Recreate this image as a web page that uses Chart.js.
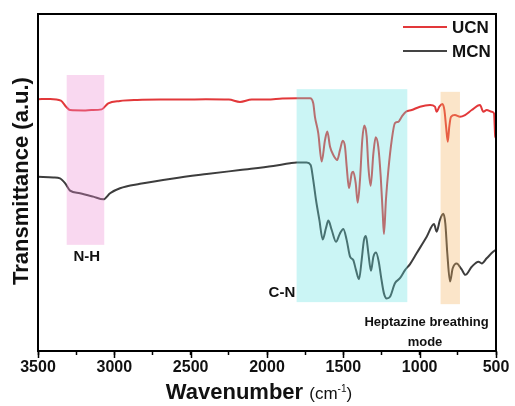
<!DOCTYPE html>
<html>
<head>
<meta charset="utf-8">
<script src="https://cdn.jsdelivr.net/npm/chart.js@4"></script>
<style>
html, body { margin: 0; padding: 0; background: #fff; }
</style>
</head>
<body>
<canvas id="ftir" width="515" height="406"></canvas>
<script>
// UCN (red) spectrum, wavenumber in cm-1 and transmittance in a.u.
const ucnWave = [3500, 3420, 3350, 3316, 3290, 3200, 3150, 3083, 3040, 2963, 2850, 2700, 2550, 2400, 2250, 2177, 2100, 2000, 1900, 1800, 1718, 1697, 1686, 1664, 1642, 1620, 1605, 1587, 1566, 1540, 1522, 1504, 1489, 1478, 1463, 1445, 1435, 1419, 1406, 1391, 1376, 1363, 1347, 1336, 1321, 1303, 1288, 1271, 1255, 1242, 1234, 1221, 1205, 1183, 1162, 1140, 1118, 1090, 1052, 998, 932, 900, 889, 871, 851, 838, 827, 816, 806, 795, 769, 736, 703, 659, 605, 583, 561, 528, 513, 505, 500]
const ucnT = [74.7, 74.8, 74.3, 72.5, 71.5, 71.4, 71.5, 71.7, 73.5, 74.2, 74.5, 74.6, 74.6, 74.7, 74.6, 73.9, 74.6, 74.6, 74.9, 75.0, 75.0, 73.5, 69.5, 64.6, 56.2, 62.6, 65.1, 60.6, 58.2, 56.7, 59.6, 62.4, 60.6, 54.7, 48.3, 52.7, 53.2, 49.8, 44.0, 50.7, 62.6, 66.9, 63.6, 54.7, 49.0, 58.7, 63.4, 60.6, 51.7, 40.9, 34.7, 44.8, 53.7, 62.6, 67.6, 68.0, 69.5, 71.0, 71.5, 72.5, 73.0, 72.5, 71.0, 72.5, 73.3, 71.5, 66.6, 62.1, 66.6, 69.5, 70.0, 69.5, 70.0, 71.5, 73.0, 71.0, 71.5, 71.0, 70.5, 63.6, 63.2]

// MCN (dark grey) spectrum
const mcnWave = [3500, 3400, 3356, 3323, 3290, 3225, 3138, 3072, 3028, 2963, 2832, 2614, 2395, 2177, 1959, 1849, 1806, 1740, 1714, 1697, 1679, 1657, 1635, 1614, 1598, 1576, 1548, 1522, 1500, 1478, 1456, 1435, 1417, 1397, 1380, 1365, 1352, 1336, 1319, 1303, 1286, 1268, 1253, 1234, 1216, 1194, 1162, 1129, 1096, 1063, 1020, 954, 906, 889, 867, 845, 832, 819, 801, 784, 758, 725, 701, 659, 615, 593, 561, 517, 500]
const mcnT = [51.7, 51.5, 51.2, 49.8, 47.6, 46.8, 45.8, 45.0, 46.8, 48.3, 49.6, 51.2, 52.5, 53.7, 54.9, 55.7, 55.9, 55.9, 55.2, 50.7, 44.8, 38.9, 33.1, 36.4, 38.7, 35.9, 32.4, 34.9, 36.2, 32.9, 28.0, 27.0, 24.0, 21.3, 27.0, 32.9, 34.1, 29.0, 23.8, 28.0, 29.2, 26.5, 22.0, 17.1, 15.6, 16.1, 20.1, 21.6, 24.0, 25.8, 29.0, 33.9, 37.7, 35.4, 38.9, 40.7, 37.9, 29.0, 20.6, 24.5, 26.0, 24.2, 22.6, 25.0, 26.5, 26.0, 27.5, 29.5, 30.0]

// highlighted bands: [from, to] wavenumber, [low, high] transmittance
const bandNames = ['N-H', 'C-N', 'Heptazine']
const bandWave = [[3312, 3066], [1806, 1081], [863, 736]]
const bandT = [[31.5, 81.9], [14.5, 77.7], [13.9, 76.9]]
const bandColors = ['rgba(238,138,209,0.33)', 'rgba(98,226,226,0.33)', 'rgba(244,175,92,0.33)']

const xTicks = [3500, 3000, 2500, 2000, 1500, 1000, 500]

const FONT = '"Liberation Sans", Arial, sans-serif'

function pts(xs, ys) {
	return xs.map((x, i) => ({ x: x, y: ys[i] }))
}

// bands are painted over the traces so the lines get tinted like the original
const overlay = {
	id: 'overlay',
	afterDatasetsDraw(chart) {
		const { ctx, scales: { x, y } } = chart
		ctx.save()
		bandWave.forEach((b, i) => {
			const x0 = x.getPixelForValue(b[0])
			const x1 = x.getPixelForValue(b[1])
			const y0 = y.getPixelForValue(bandT[i][1])
			const y1 = y.getPixelForValue(bandT[i][0])
			ctx.fillStyle = bandColors[i]
			ctx.fillRect(x0, y0, x1 - x0, y1 - y0)
		})

		ctx.fillStyle = '#111'
		ctx.textBaseline = 'middle'
		ctx.font = `bold 15px ${FONT}`
		ctx.textAlign = 'center'
		ctx.fillText('N-H', x.getPixelForValue(3180), y.getPixelForValue(27.9))
		ctx.textAlign = 'right'
		ctx.fillText('C-N', x.getPixelForValue(1815), y.getPixelForValue(17.2))
		ctx.textAlign = 'center'
		ctx.font = `bold 13px ${FONT}`
		ctx.fillText('Heptazine breathing', x.getPixelForValue(955), y.getPixelForValue(8.6))
		ctx.fillText('mode', x.getPixelForValue(965), y.getPixelForValue(2.4))
		ctx.restore()
	},
	afterDraw(chart) {
		const { ctx, chartArea: a, scales: { x } } = chart
		ctx.save()
		// frame
		ctx.strokeStyle = '#000'
		ctx.lineWidth = 2
		ctx.strokeRect(a.left, a.top, a.right - a.left, a.bottom - a.top)

		// a bit longer marks for the labelled ticks
		ctx.lineWidth = 1.5
		xTicks.forEach((v) => {
			const px = Math.round(x.getPixelForValue(v)) + 0.5
			ctx.beginPath()
			ctx.moveTo(px, a.bottom)
			ctx.lineTo(px, a.bottom + 7)
			ctx.stroke()
		})

		// legend
		const items = [['UCN', '#e2383a', 27], ['MCN', '#444', 51]]
		ctx.font = `bold 17px ${FONT}`
		ctx.textAlign = 'left'
		ctx.textBaseline = 'middle'
		items.forEach(([name, col, yy]) => {
			ctx.strokeStyle = col
			ctx.lineWidth = 2.2
			ctx.beginPath()
			ctx.moveTo(403, yy)
			ctx.lineTo(447, yy)
			ctx.stroke()
			ctx.fillStyle = '#111'
			ctx.fillText(name, 452, yy + 1)
		})

		// y title
		ctx.save()
		ctx.translate(22, 181)
		ctx.rotate(-Math.PI / 2)
		ctx.textAlign = 'center'
		ctx.font = `bold 22px ${FONT}`
		ctx.fillText('Transmittance (a.u.)', 0, 0)
		ctx.restore()

		// x title, unit part set smaller as in the figure
		const f1 = `bold 22px ${FONT}`
		const f2 = `17px ${FONT}`
		const f3 = `10px ${FONT}`
		const parts = [['Wavenumber ', f1, 0], ['(cm', f2, 0], ['-1', f3, -7], [')', f2, 0]]
		let total = 0
		parts.forEach((p) => {
			ctx.font = p[1]
			total += ctx.measureText(p[0]).width
		})
		let cx = 259 - total / 2
		ctx.textAlign = 'left'
		ctx.textBaseline = 'alphabetic'
		parts.forEach((p) => {
			ctx.font = p[1]
			ctx.fillText(p[0], cx, 399 + p[2])
			cx += ctx.measureText(p[0]).width
		})
		ctx.restore()
	},
}

new Chart(document.getElementById('ftir'), {
	type: 'line',
	data: {
		datasets: [
			{
				label: 'UCN',
				data: pts(ucnWave, ucnT),
				borderColor: '#e2383a',
				borderWidth: 2,
				pointRadius: 0,
				cubicInterpolationMode: 'monotone',
			},
			{
				label: 'MCN',
				data: pts(mcnWave, mcnT),
				borderColor: '#3d3d3d',
				borderWidth: 2,
				pointRadius: 0,
				cubicInterpolationMode: 'monotone',
			},
		],
	},
	options: {
		responsive: false,
		animation: false,
		devicePixelRatio: 1,
		layout: { padding: { top: 14, right: 19, left: 0, bottom: 0 } },
		plugins: { legend: { display: false }, tooltip: { enabled: false } },
		scales: {
			x: {
				type: 'linear',
				reverse: true,
				min: 500,
				max: 3500,
				afterFit: (s) => { s.height = 55 },
				afterBuildTicks: (s) => {
					const t = []
					for (let v = 500; v <= 3500; v += 250) t.push({ value: v })
					s.ticks = t
				},
				ticks: {
					autoSkip: false,
					maxRotation: 0,
					color: '#111',
					padding: 3,
					font: { family: FONT, weight: 'bold', size: 16 },
					callback: (v) => (xTicks.includes(v) ? String(v) : ''),
				},
				grid: { drawOnChartArea: false, tickLength: 4, tickColor: '#000', tickWidth: 1.5 },
				border: { color: '#000', width: 2 },
			},
			y: {
				min: 0,
				max: 100,
				afterFit: (s) => { s.width = 38 },
				ticks: { display: false },
				grid: { display: false },
				border: { color: '#000', width: 2 },
			},
		},
	},
	plugins: [overlay],
})
</script>
</body>
</html>
